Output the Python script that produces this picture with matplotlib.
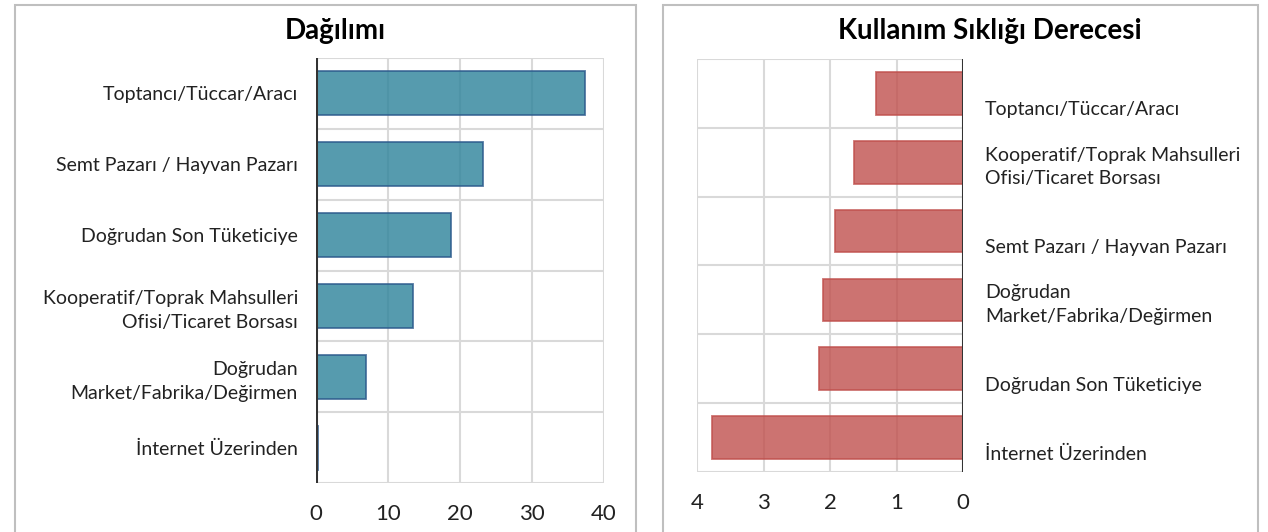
import matplotlib.pyplot as plt
from matplotlib.patches import Rectangle

plt.rcParams['font.family'] = ['Lato', 'DejaVu Sans']

# left panel: share (%)
dist_labels = ['Toptancı/Tüccar/Aracı', 'Semt Pazarı / Hayvan Pazarı', 'Doğrudan Son Tüketiciye',
               'Kooperatif/Toprak Mahsulleri\nOfisi/Ticaret Borsası', 'Doğrudan\nMarket/Fabrika/Değirmen',
               'İnternet Üzerinden']
dist_values = [37.4, 23.2, 18.7, 13.5, 6.9, 0.3]

# right panel: usage frequency degree
freq_labels = ['\nToptancı/Tüccar/Aracı', 'Kooperatif/Toprak Mahsulleri\nOfisi/Ticaret Borsası',
               '\nSemt Pazarı / Hayvan Pazarı', 'Doğrudan\nMarket/Fabrika/Değirmen',
               '\nDoğrudan Son Tüketiciye', '\nİnternet Üzerinden']
freq_values = [1.31, 1.64, 1.93, 2.10, 2.17, 3.77]

fig = plt.figure(figsize=(12.68, 5.32), dpi=100)

# panel frames
for x0, x1 in [(15, 636), (663, 1258)]:
    fig.patches.append(Rectangle((x0 / 1268, -0.1), (x1 - x0) / 1268, 1.1 - 5 / 532,
                                 transform=fig.transFigure, fill=False,
                                 edgecolor='#BFBFBF', lw=1.5))

grid_c = '#D9D9D9'


def style(ax, n):
    ax.set_ylim(n - 0.5, -0.5)
    for b in [i - 0.5 for i in range(n + 1)]:
        ax.axhline(b, color=grid_c, lw=1.5, zorder=0)
    ax.grid(axis='x', color=grid_c, lw=1.5, zorder=0)
    ax.set_axisbelow(True)
    for s in ax.spines.values():
        s.set_visible(False)
    ax.tick_params(length=0, colors='#222222')
    ax.tick_params(axis='x', pad=15, labelsize=16)
    for t in ax.get_yticklabels():
        t.set_fontsize(14)
        t.set_linespacing(1.45)
    ax.axvline(0, color='#333333', lw=2.2, zorder=3)


ax1 = fig.add_axes([316 / 1268, 1 - 483 / 532, 288 / 1268, 425 / 532])
y = range(len(dist_values))
ax1.barh(y, dist_values, height=0.62, color='#31859C', alpha=0.82,
         edgecolor='#2C5A8C', lw=1.3, zorder=2)
ax1.set_xlim(0, 40)
ax1.set_xticks([0, 10, 20, 30, 40])
ax1.set_yticks(list(y))
ax1.set_yticklabels(dist_labels)
ax1.tick_params(axis='y', pad=13)
style(ax1, len(dist_values))

ax2 = fig.add_axes([697 / 1268, 1 - 472 / 532, 266 / 1268, 413 / 532])
y2 = range(len(freq_values))
ax2.barh(y2, freq_values, height=0.62, color='#C0504D', alpha=0.8,
         edgecolor='#C0504D', lw=1.3, zorder=2)
ax2.set_xlim(4, 0)
ax2.set_xticks([4, 3, 2, 1, 0])
ax2.yaxis.tick_right()
ax2.set_yticks(list(y2))
ax2.set_yticklabels(freq_labels)
ax2.tick_params(axis='y', pad=16)
style(ax2, len(freq_values))

fig.text(335 / 1268, 1 - 31 / 532, 'Dağılımı', fontsize=20, fontweight='bold',
         ha='center', va='center')
fig.text(990 / 1268, 1 - 31 / 532, 'Kullanım Sıklığı Derecesi', fontsize=20,
         fontweight='bold', ha='center', va='center')

fig.savefig('out.png', dpi=100)
